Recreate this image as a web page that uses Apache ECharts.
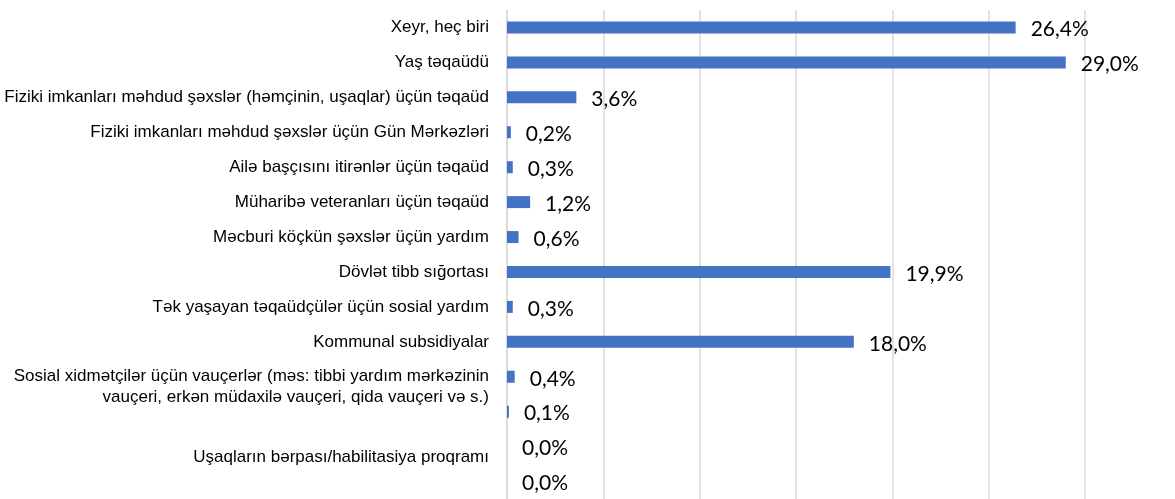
<!DOCTYPE html>
<html>
<head>
<meta charset="utf-8">
<script src="https://cdn.jsdelivr.net/npm/echarts@6/dist/echarts.min.js"></script>
<style>
  html, body { margin: 0; padding: 0; background: #fff; }
  #chart { width: 1175px; height: 499px; }
</style>
</head>
<body>
<div id="chart"></div>
<script>
// kateqoriyalar (yuxarıdan aşağı)
// boş sətir "\n" etiketi bir az aşağı salır, orijinaldakı kimi
let categories = [
  "Xeyr, heç biri",
  "Yaş təqaüdü",
  "Fiziki imkanları məhdud şəxslər (həmçinin, uşaqlar) üçün təqaüd",
  "Fiziki imkanları məhdud şəxslər üçün Gün Mərkəzləri",
  "Ailə başçısını itirənlər üçün təqaüd",
  "Müharibə veteranları üçün təqaüd",
  "Məcburi köçkün şəxslər üçün yardım",
  "Dövlət tibb sığortası",
  "Tək yaşayan təqaüdçülər üçün sosial yardım",
  "Kommunal subsidiyalar",
  "\nSosial xidmətçilər üçün vauçerlər (məs: tibbi yardım mərkəzinin\nvauçeri, erkən müdaxilə vauçeri, qida vauçeri və s.)",
  "",
  "\nUşaqların bərpası/habilitasiya proqramı",
  ""
];
// faizlər
let values = [26.4, 29.0, 3.6, 0.2, 0.3, 1.2, 0.6, 19.9, 0.3, 18.0, 0.4, 0.1, 0.0, 0.0];

let axisMin = 0;
let axisMax = 30;
let axisStep = 5;

let myChart = echarts.init(document.getElementById('chart'));

let option = {
  animation: false,
  grid: {
    left: 507,
    right: 90,
    top: 10,
    height: 494,
    containLabel: false
  },
  xAxis: {
    type: 'value',
    min: axisMin,
    max: axisMax,
    interval: axisStep,
    axisLabel: {show: false},
    axisLine: {show: false},
    axisTick: {show: false},
    splitLine: {
      show: true,
      lineStyle: {color: '#d9d9d9', width: 1.5}
    }
  },
  yAxis: {
    type: 'category',
    data: categories,
    inverse: true,
    axisTick: {show: false},
    axisLine: {
      show: true,
      lineStyle: {color: '#d9d9d9', width: 1.5}
    },
    axisLabel: {
      interval: 0,
      margin: 18,
      color: '#000',
      fontFamily: 'Liberation Sans',
      fontSize: 17,
      lineHeight: 21
    }
  },
  series: [{
    type: 'bar',
    data: values,
    barWidth: 12,
    itemStyle: {color: '#4472c4'},
    label: {
      show: true,
      position: 'right',
      distance: 15,
      offset: [0, 2],
      color: '#000',
      fontFamily: 'Lato',
      fontSize: 21,
      formatter: p => p.value.toFixed(1).replace('.', ',') + '%'
    }
  }]
};

myChart.setOption(option);
</script>
</body>
</html>
